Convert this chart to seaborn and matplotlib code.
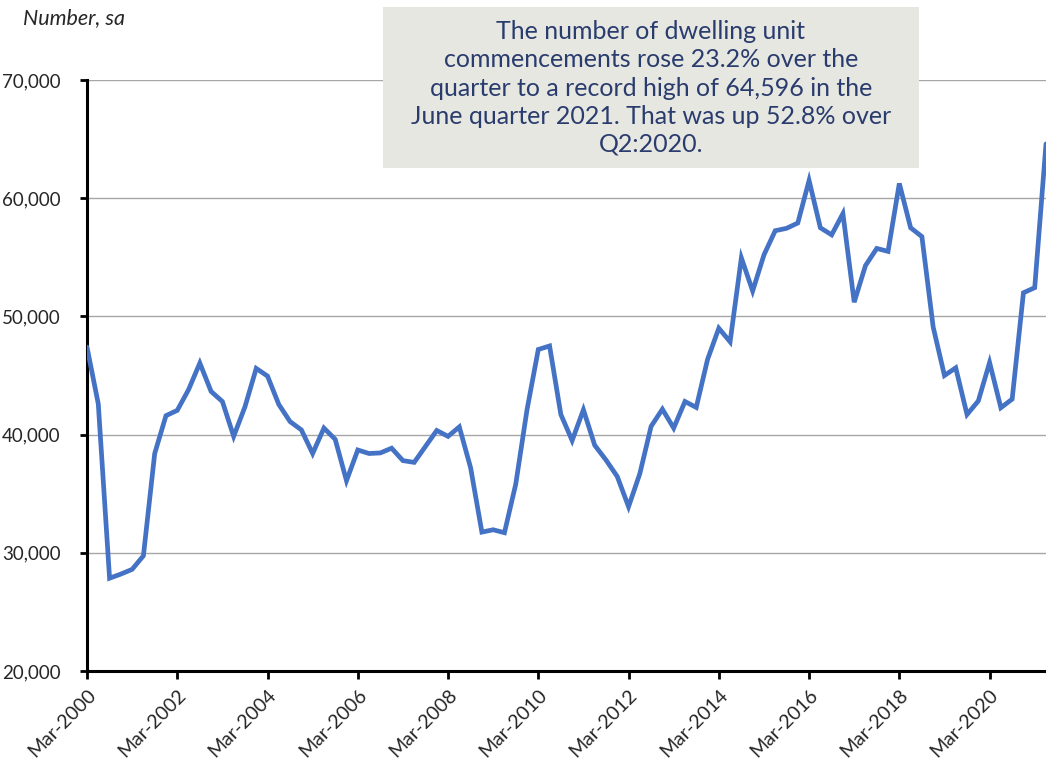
import matplotlib
matplotlib.use("Agg")
import matplotlib.pyplot as plt
import matplotlib.ticker as mticker
from matplotlib.patches import Rectangle
import numpy as np
import pandas as pd
import seaborn as sns

# Quarterly dwelling unit commencements, seasonally adjusted (Mar-2000 .. Jun-2021)
quarters = pd.period_range("2000Q1", "2021Q2", freq="Q")
commencements = [
    47400, 42600, 27850, 28200, 28600, 29750, 38400, 41600,
    42050, 43800, 46050, 43650, 42800, 39850, 42350, 45600,
    44950, 42550, 41100, 40400, 38400, 40550, 39600, 36100,
    38700, 38400, 38450, 38850, 37800, 37650, 39000, 40350,
    39850, 40650, 37200, 31750, 31950, 31700, 35800, 42100,
    47200, 47500, 41700, 39500, 42100, 39100, 37850, 36450,
    33900, 36700, 40700, 42150, 40550, 42800, 42300, 46350,
    49000, 47850, 54950, 52150, 55200, 57250, 57450, 57900,
    61500, 57500, 56900, 58700, 51200, 54300, 55750, 55500,
    61250, 57500, 56750, 49100, 45000, 45650, 41700, 42850,
    46100, 42275, 43000, 52000, 52432, 64596,
]
tick_step = 8  # label every second year
y_ticks = [20000, 30000, 40000, 50000, 60000, 70000]

note = ("The number of dwelling unit\n"
        "commencements rose 23.2% over the\n"
        "quarter to a record high of 64,596 in the\n"
        "June quarter 2021. That was up 52.8% over\n"
        "Q2:2020.")

df = pd.DataFrame({
    "idx": np.arange(len(quarters)),
    "label": [pd.Timestamp(p.end_time).strftime("%b-%Y") for p in quarters],
    "value": commencements,
})

sns.set_style("white")
plt.rcParams["font.family"] = ["Lato", "DejaVu Sans"]

W, H = 1046, 772
fig = plt.figure(figsize=(W / 100, H / 100), dpi=100)
ax = fig.add_axes([87 / W, 1 - 671 / H, (W - 87) / W, (671 - 80) / H])

sns.lineplot(data=df, x="idx", y="value", ax=ax, color="#4472C4",
             linewidth=3.4, solid_joinstyle="miter", zorder=3)

ax.set_xlim(0, len(quarters) - 1)
ax.set_ylim(20000, 70000)
ax.set_yticks(y_ticks)
ax.yaxis.set_major_formatter(mticker.FuncFormatter(lambda v, _: f"{v:,.0f}"))

tick_idx = df["idx"][::tick_step]
ax.set_xticks(tick_idx)
ax.set_xticklabels(df["label"][::tick_step], rotation=45, ha="right",
                   rotation_mode="anchor")

ax.set_xlabel("")
ax.set_ylabel("")

ax.grid(axis="y", color="#A6A6A6", linewidth=1.0, zorder=0)
ax.grid(axis="x", visible=False)
for side in ("top", "right"):
    ax.spines[side].set_visible(False)
for side in ("left", "bottom"):
    ax.spines[side].set_color("black")
    ax.spines[side].set_linewidth(2.2)

ax.tick_params(axis="y", direction="out", length=5, width=2, color="black",
               labelsize=13.5, labelcolor="#262626", pad=14, left=True)
ax.tick_params(axis="x", direction="out", length=6, width=2, color="black",
               labelsize=14, labelcolor="#262626", pad=5, bottom=True)

fig.text(23 / W, 1 - 18 / H, "Number, sa", fontsize=15.5, style="italic",
         color="#262626", ha="left", va="center")

# Call-out box with the commentary
box_l, box_r, box_t, box_b = 383, 919, 7, 168
fig.patches.append(Rectangle((box_l / W, 1 - box_b / H), (box_r - box_l) / W,
                             (box_b - box_t) / H, transform=fig.transFigure,
                             facecolor="#E6E7E1", edgecolor="none", zorder=5))
fig.text((box_l + box_r) / 2 / W, 1 - 88 / H, note, fontsize=18,
         color="#2A3C6E", ha="center", va="center", linespacing=1.27,
         zorder=10)

fig.savefig("out.png", dpi=100)
